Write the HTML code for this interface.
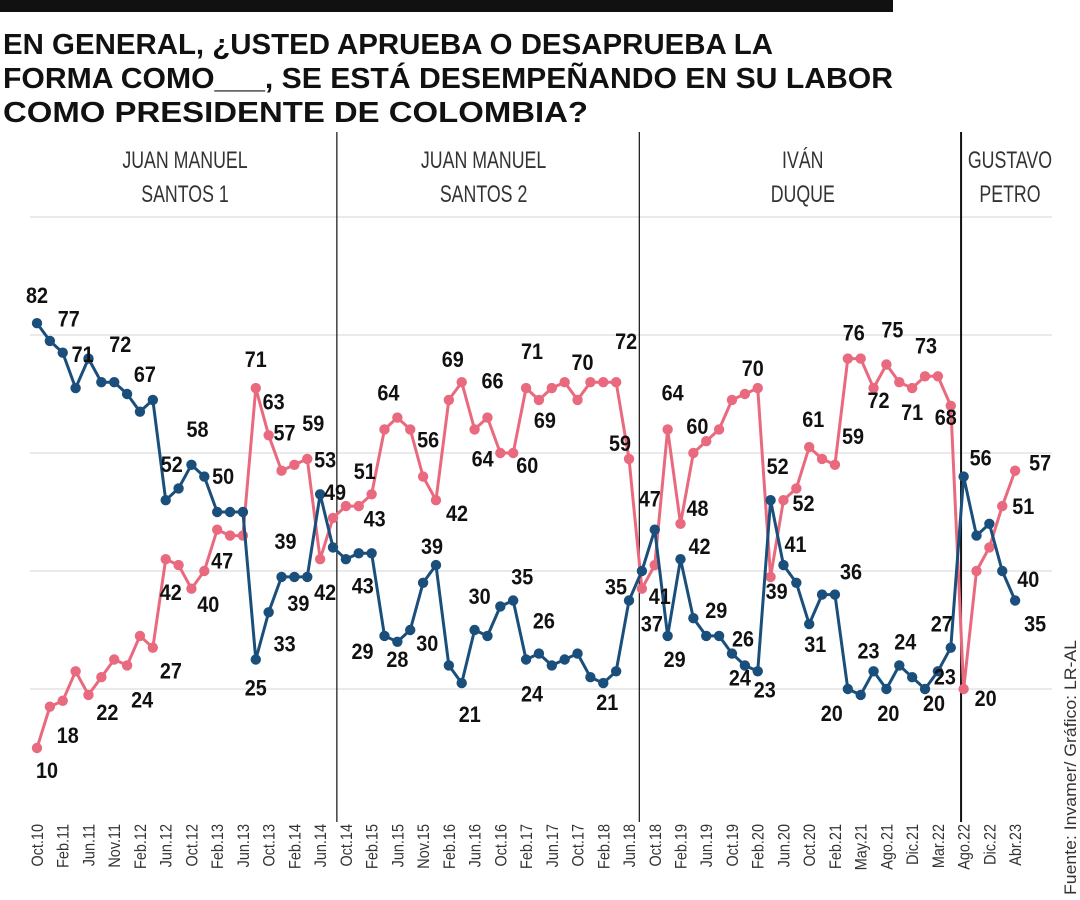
<!DOCTYPE html>
<html><head><meta charset="utf-8"><style>
html,body{margin:0;padding:0;background:#fff;width:1080px;height:900px;overflow:hidden}
svg{display:block;font-family:"Liberation Sans Narrow","Liberation Sans",sans-serif}
</style></head><body>
<svg id="chart" width="1080" height="900" viewBox="0 0 1080 900">
<rect x="0" y="0" width="893" height="12" fill="#111"/>
<g font-family="'Liberation Sans',sans-serif" font-weight="bold" font-size="29" fill="#111">
<text x="3" y="54" textLength="770" lengthAdjust="spacingAndGlyphs">EN GENERAL, ¿USTED APRUEBA O DESAPRUEBA LA</text>
<text x="3" y="88" textLength="890" lengthAdjust="spacingAndGlyphs">FORMA COMO___, SE ESTÁ DESEMPEÑANDO EN SU LABOR</text>
<text x="3" y="122" textLength="585" lengthAdjust="spacingAndGlyphs">COMO PRESIDENTE DE COLOMBIA?</text>
</g>
<g id="grid"></g>
<g id="periods"></g>
<g id="lines"></g>
<g id="labels"></g>
<g id="xaxis"></g>
<text transform="translate(1076,895) rotate(-90)" font-size="17" fill="#333" textLength="255" lengthAdjust="spacingAndGlyphs">Fuente: Invamer/ Gráfico: LR-AL</text>
</svg>
<script>
const xLabels=["Oct.10","Feb.11","Jun.11","Nov.11","Feb.12","Jun.12","Oct.12","Feb.13","Jun.13","Oct.13","Feb.14","Jun.14","Oct.14","Feb.15","Jun.15","Nov.15","Feb.16","Jun.16","Oct.16","Feb.17","Jun.17","Oct.17","Feb.18","Jun.18","Oct.18","Feb.19","Jun.19","Oct.19","Feb.20","Jun.20","Oct.20","Feb.21","May.21","Ago.21","Dic.21","Mar.22","Ago.22","Dic.22","Abr.23"];
const approve=[82,79,77,71,76,72,72,70,67,69,52,54,58,56,50,50,50,25,33,39,39,39,53,44,42,43,43,29,28,30,38,41,24,21,30,29,34,35,25,26,24,25,26,22,21,23,35,40,47,29,42,32,29,29,26,24,23,52,41,38,31,36,36,20,19,23,20,24,22,20,23,27,56,46,48,40,35];
const disapprove=[10,17,18,23,19,22,25,24,29,27,42,41,37,40,47,46,46,71,63,57,58,59,42,49,51,51,53,64,66,64,56,52,69,72,64,66,60,60,71,69,71,72,69,72,72,72,59,37,41,64,48,60,62,64,69,70,71,39,52,54,61,59,58,76,76,71,75,72,71,73,73,68,20,40,44,51,57];
const gridValues=[20,40,60,80,100];
const periodNames=[["JUAN MANUEL","SANTOS 1"],["JUAN MANUEL","SANTOS 2"],["IVÁN","DUQUE"],["GUSTAVO","PETRO"]];
const periodBreaks=[23.3,46.8,71.8];
const periodCenters=[11.5,34.7,59.5,75.6];
// [series(0 approve,1 disapprove), index, text, dx, dy]
const dataLabels=[
[0,0,"82",0,-28],[0,2,"77",6,-34],[0,3,"71",7,-34],[0,6,"72",6,-38],[0,9,"67",-8,-26],[0,10,"52",6,-36],[0,12,"58",6,-36],[0,14,"50",6,-36],
[1,0,"10",10,22],[1,2,"18",5,34],[1,5,"22",6,35],[1,7,"24",15,34],[1,9,"27",18,23],[1,10,"42",5,33],[1,13,"40",4,33],[1,14,"47",5,31],
[1,17,"71",0,-29],[1,18,"63",5,-34],[1,19,"57",3,-38],[1,21,"59",6,-36],[0,17,"25",0,28],[0,18,"33",16,31],[0,19,"39",4,-36],[0,20,"39",4,26],
[1,22,"42",5,33],[0,22,"53",5,-35],[1,23,"49",2,-26],[1,25,"51",6,-35],[1,26,"43",3,24],[0,25,"43",4,32],[1,28,"64",-9,-25],[1,30,"56",5,-37],
[1,31,"42",21,13],[1,33,"69",-9,-23],[1,35,"66",5,-37],[1,34,"64",8,29],[1,37,"60",14,12],[1,38,"71",6,-37],[1,39,"69",6,20],[1,42,"70",5,-38],
[1,45,"72",10,-41],[1,46,"59",-9,-16],[0,27,"29",-22,15],[0,28,"28",0,17],[0,29,"30",17,13],[0,31,"39",-4,-19],[0,33,"21",8,31],[0,34,"30",5,-34],
[0,37,"35",9,-24],[0,39,"26",5,-33],[0,38,"24",6,34],[0,44,"21",4,19],[0,46,"35",-13,-14],[0,48,"47",-5,-31],[1,48,"41",5,31],[1,47,"37",10,35],
[1,49,"64",5,-37],[0,49,"29",7,23],[1,50,"48",17,-16],[0,50,"42",19,-13],[1,51,"60",4,-27],[0,52,"29",10,-26],[0,54,"26",11,-15],[0,55,"24",-5,12],
[0,56,"23",7,18],[1,56,"70",-5,-20],[0,57,"52",7,-34],[1,57,"39",6,14],[1,58,"52",20,3],[0,58,"41",12,-21],[1,60,"61",4,-28],[0,60,"31",6,20],
[1,62,"59",18,-29],[0,62,"36",16,-23],[0,63,"20",-16,24],[1,63,"76",6,-26],[1,66,"75",6,-35],[1,65,"72",5,12],[0,65,"23",-5,-21],[0,66,"20",2,24],
[1,68,"71",0,24],[1,69,"73",1,-31],[0,67,"24",6,-24],[0,69,"20",9,14],[1,71,"68",-5,11],[0,71,"27",-9,-24],[0,70,"23",7,5],
[0,72,"56",17,-19],[1,72,"20",22,9],[1,76,"57",25,-8],[1,75,"51",21,0],[0,75,"40",26,8],[0,76,"35",20,23]
];
const NS="http://www.w3.org/2000/svg";
const X0=37,DX=12.87,Y0=807,KY=5.9;
function xs(i){return X0+DX*i;}
function ys(v){return Y0-KY*v;}
function mk(tag,attrs,parent){const e=document.createElementNS(NS,tag);for(const k in attrs)e.setAttribute(k,attrs[k]);parent.appendChild(e);return e;}
const grid=document.getElementById('grid');
gridValues.forEach(v=>{
  const l=mk('line',{x1:30,x2:1052,y1:ys(v),y2:ys(v),stroke:'#d6d6d6','stroke-width':1},grid);
  
  
});
const per=document.getElementById('periods');
periodBreaks.forEach((b,k)=>{
  const l=mk('line',{x1:xs(b),x2:xs(b),y1:132,y2:822,stroke:'#111','stroke-width':k===2?2:1.2},per);
  
  
});
periodNames.forEach((nm,k)=>{
  const cx=xs(periodCenters[k]);
  nm.forEach((s,j)=>{
    const t=mk('text',{x:0,y:0,transform:'translate('+cx+','+(168+j*34)+') scale(0.74,1)','text-anchor':'middle','font-size':24,fill:'#333'},per);
    t.textContent=s;
    
    
  });
});
const lines=document.getElementById('lines');
const series=[[approve,'#1b4f7b','approve'],[disapprove,'#e96a7e','disapprove']];
series.slice().reverse().forEach(([vals,col,nm])=>{
  const p=mk('polyline',{points:vals.map((v,i)=>xs(i)+','+ys(v)).join(' '),fill:'none',stroke:col,'stroke-width':3,'stroke-linejoin':'round'},lines);
  
  
  vals.forEach((v,i)=>{
    const c=mk('circle',{cx:xs(i),cy:ys(v),r:5.2,fill:col},lines);
    
    
  });
});
const lab=document.getElementById('labels');
dataLabels.forEach(([s,i,txt,dx,dy])=>{
  const v=s===0?approve[i]:disapprove[i];
  const t=mk('text',{x:0,y:0,transform:'translate('+(xs(i)+dx)+','+(ys(v)+dy+8)+') scale(0.9,1)','text-anchor':'middle','font-size':22,'font-weight':'bold',fill:'#111'},lab);
  t.textContent=txt;
  
  
});
const xa=document.getElementById('xaxis');
xLabels.forEach((s,k)=>{
  const x=xs(k*2);
  const t=mk('text',{transform:'translate('+(x+6)+',824) rotate(-90) scale(0.85,1)','text-anchor':'end','font-size':17,fill:'#333'},xa);
  t.textContent=s;
  
  
});
</script>
</body></html>
